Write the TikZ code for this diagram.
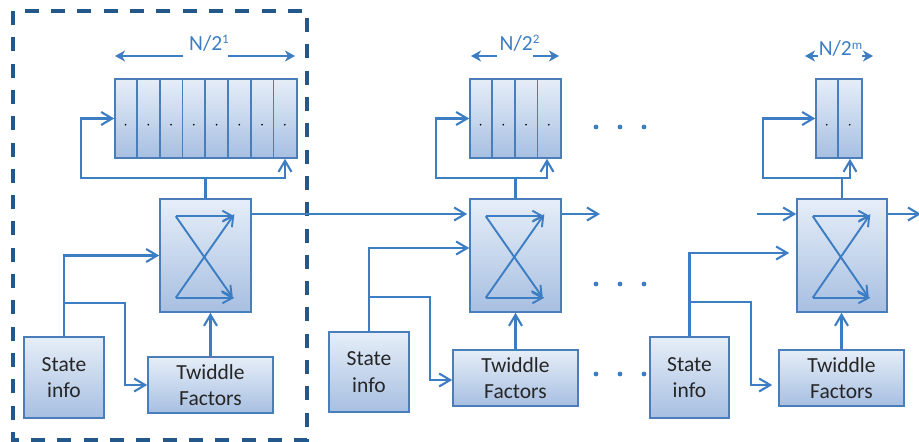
\documentclass[tikz,border=0pt]{standalone}
\usepackage{fontspec}
\setmainfont{Carlito}
\usetikzlibrary{arrows.meta,calc}
\definecolor{lineblue}{HTML}{3C7DC3}
\definecolor{boxborder}{HTML}{4A7EBB}
\definecolor{boxtop}{HTML}{E6EEF8}
\definecolor{boxbot}{HTML}{A7BFE1}
\definecolor{dashblue}{HTML}{24588A}
\definecolor{txt}{HTML}{262626}
\tikzset{
  box/.style={draw=boxborder, line width=1.6pt, top color=boxtop, bottom color=boxbot,
    inner sep=0pt, align=center, text=txt, font=\fontsize{21.5}{26.5}\selectfont},
  plain/.style={draw=lineblue, line width=2.1pt},
  conn/.style={plain, -{Straight Barb[length=11pt,width=13pt]}},
  conntwo/.style={plain, {Straight Barb[length=11pt,width=13pt]}-{Straight Barb[length=11pt,width=13pt]}},
  xarr/.style={draw=lineblue, line width=1.9pt, -{Straight Barb[length=10pt,width=11pt]}},
  dimarr/.style={plain, -{Stealth[length=10pt,width=11pt,inset=3pt]}},
  dimlabel/.style={text=lineblue, inner sep=0pt, font=\fontsize{21.5}{21.5}\selectfont},
  stagedot/.style={fill=lineblue},
}
\newcommand{\bflyx}[1]{%
  \coordinate (#1tl) at ($(#1.north west)+(16.5,18)$);
  \coordinate (#1bl) at ($(#1.south west)+(16.5,-15)$);
  \coordinate (#1tr) at ($(#1.north east)+(-17.5,18)$);
  \coordinate (#1br) at ($(#1.south east)+(-17.5,-15)$);
  \draw[xarr] (#1tl) -- (#1tr);
  \draw[xarr] (#1tl) -- ($(#1br)+(-1.5,0)$);
  \draw[xarr] (#1bl) -- (#1br);
  \draw[xarr] (#1bl) -- ($(#1tr)+(0,-2)$);
}
\newcommand{\regcells}[3]{%
  \foreach \i in {2,...,#2} {
    \draw[boxborder, line width=1.6pt] ($(#1.north west)+({(\i-1)*#3},0)$) -- ($(#1.south west)+({(\i-1)*#3},0)$);
  }
  \foreach \i in {1,...,#2} {
    \fill[black] ($(#1.north west)+({\i*#3-#3/2},46.5)$) circle (0.9pt);
  }
}
\begin{document}
\begin{tikzpicture}[x=1pt,y=-1pt]
\useasboundingbox (0,0) rectangle (919,442);

% group frame
\draw[dashblue, line width=3.3pt, dash pattern=on 14pt off 12.3pt] (13,11) rectangle (307,440);

% ---------- stage 1 ----------
\node[box, minimum width=182pt, minimum height=79pt] (reg1) at (206,118.5) {};
\regcells{reg1}{8}{22.75}
\node[box, minimum width=91pt, minimum height=113pt] (bf1) at (205.5,255.5) {};
\bflyx{bf1}
\node[box, minimum width=80pt, minimum height=81pt] (st1) at (64,377.5) {State\\info};
\node[box, minimum width=125pt, minimum height=56pt] (tw1) at (210.5,385) {Twiddle\\Factors};
\node[dimlabel, anchor=base] (n1) at (209,50.5) {N/2\raisebox{7pt}{\fontsize{13}{13}\selectfont 1}};
\coordinate (d1a) at (183,56); \coordinate (d1b) at (115,56);
\coordinate (d1c) at (228,56); \coordinate (d1d) at (295,56);
\draw[dimarr] (d1a) -- (d1b);
\draw[dimarr] (d1c) -- (d1d);
\coordinate (l1a) at (81,178); \coordinate (l1b) at (285,178);
\draw[plain] (bf1.north) -- (bf1.north |- l1a);
\draw[conntwo] (reg1.west) -| (l1a) -- (l1b) -- (l1b |- reg1.south);
\draw[conn] (st1.north) |- (bf1.west);
\path (st1.north) ++(0,-33) coordinate (s1j);
\draw[conn] (s1j) -| ($(tw1.west)+(-22,0)$) -- (tw1.west);
\draw[conn] (tw1.north) -- (tw1.north |- bf1.south);

% ---------- stage 2 ----------
\node[box, minimum width=91pt, minimum height=79pt] (reg2) at (515.5,118.5) {};
\regcells{reg2}{4}{22.75}
\node[box, minimum width=91pt, minimum height=113pt] (bf2) at (515.5,255.5) {};
\bflyx{bf2}
\node[box, minimum width=80pt, minimum height=80pt] (st2) at (369,372) {State\\info};
\node[box, minimum width=125pt, minimum height=56pt] (tw2) at (515.5,378) {Twiddle\\Factors};
\node[dimlabel, anchor=base] (n2) at (519.5,50.5) {N/2\raisebox{7pt}{\fontsize{13}{13}\selectfont 2}};
\coordinate (d2a) at (497,56); \coordinate (d2b) at (471,56);
\coordinate (d2c) at (533,56); \coordinate (d2d) at (559,56);
\draw[dimarr] (d2a) -- (d2b);
\draw[dimarr] (d2c) -- (d2d);
\coordinate (l2a) at (436,178); \coordinate (l2b) at (547,178);
\draw[plain] (bf2.north) -- (bf2.north |- l2a);
\draw[conntwo] (reg2.west) -| (l2a) -- (l2b) -- (l2b |- reg2.south);
\draw[conn] (st2.north) |- ($(bf2.west)+(0,-7.5)$);
\path (st2.north) ++(0,-34) coordinate (s2j);
\draw[conn] (s2j) -| ($(tw2.west)+(-22,2)$) -- ($(tw2.west)+(0,2)$);
\draw[conn] (tw2.north) -- (tw2.north |- bf2.south);

% stage 1 -> stage 2, stage 2 out
\draw[conn] ($(bf1.east)+(0,-41.5)$) -- ($(bf2.west)+(-2,-41.5)$);
\coordinate (o2) at (600,214);
\draw[conn] ($(bf2.east)+(0,-41.5)$) -- (o2);

% ---------- continuation dots ----------
\foreach \yy in {127,284,374} {
  \foreach \xx in {596,620,644} {
    \fill[stagedot] (\xx,\yy) circle (2.4pt);
  }
}

% ---------- stage m ----------
\node[box, minimum width=46pt, minimum height=79pt] (reg3) at (839,118.5) {};
\regcells{reg3}{2}{23}
\node[box, minimum width=90pt, minimum height=113pt] (bf3) at (842,255.5) {};
\bflyx{bf3}
\node[box, minimum width=79pt, minimum height=81pt] (st3) at (689.5,377.5) {State\\info};
\node[box, minimum width=125pt, minimum height=56pt] (tw3) at (841.5,378) {Twiddle\\Factors};
\node[dimlabel, anchor=base] (n3) at (840.5,55) {N/2\raisebox{6pt}{\fontsize{13}{13}\selectfont m}};
\coordinate (d3a) at (818,56); \coordinate (d3b) at (805,56);
\coordinate (d3c) at (862,56); \coordinate (d3d) at (873,56);
\draw[dimarr] (d3a) -- (d3b);
\draw[dimarr] (d3c) -- (d3d);
\coordinate (l3a) at (763,178); \coordinate (l3b) at (850,178);
\draw[plain] (bf3.north) -- (bf3.north |- l3a);
\draw[conntwo] (reg3.west) -| (l3a) -- (l3b) -- (l3b |- reg3.south);
\draw[conn] (st3.north) |- ($(bf3.west)+(-7,-2.5)$);
\path (st3.north) ++(0,-34) coordinate (s3j);
\draw[conn] (s3j) -| ($(tw3.west)+(-27,7)$) -- ($(tw3.west)+(-6,7)$);
\draw[conn] (tw3.north) -- (tw3.north |- bf3.south);
\coordinate (i3) at (757,214);
\draw[conn] (i3) -- ($(bf3.west)+(0,-41.5)$);
\coordinate (o3) at (921,214);
\draw[conn] ($(bf3.east)+(0,-41.5)$) -- (o3);
\end{tikzpicture}
\end{document}
